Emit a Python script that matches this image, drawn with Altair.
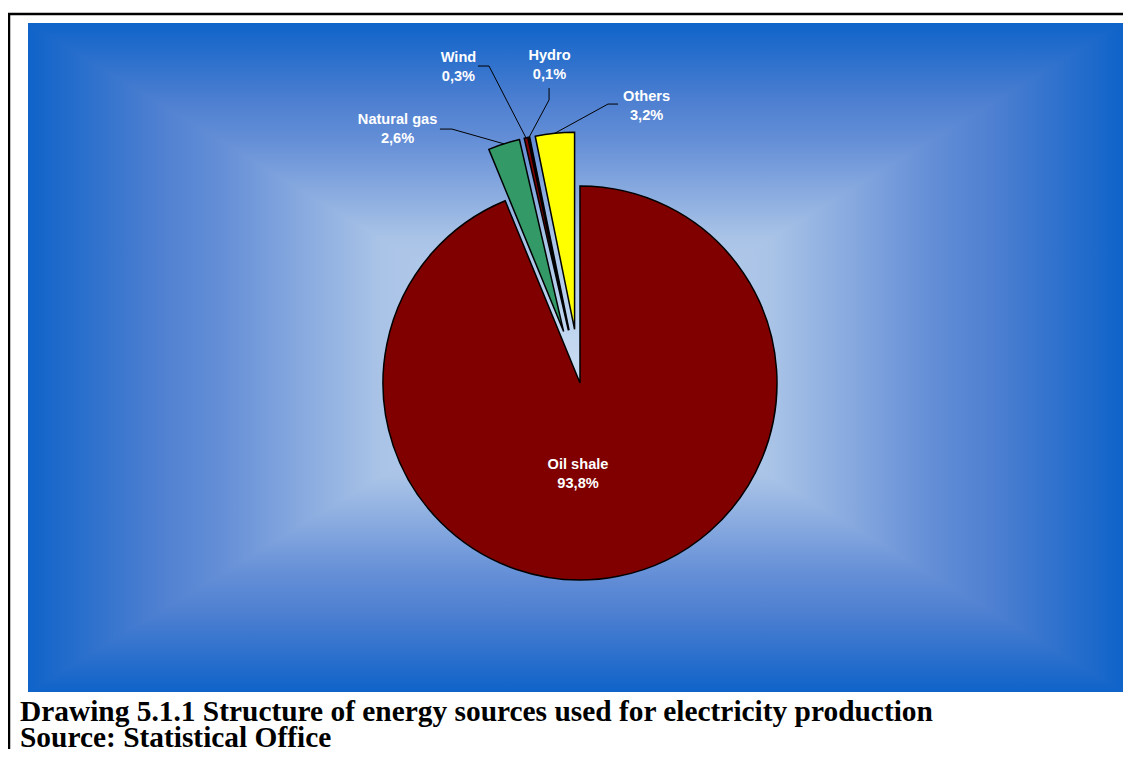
import math
import altair as alt
import pandas as pd

# ---------------- data ----------------
categories = ["Oil shale", "Natural gas", "Wind", "Hydro", "Others"]
shares = [93.8, 2.6, 0.3, 0.1, 3.2]
share_labels = ["93,8%", "2,6%", "0,3%", "0,1%", "3,2%"]
caption_lines = [
    "Drawing 5.1.1 Structure of energy sources used for electricity production",
    "Source: Statistical Office",
]

# ---------------- style / layout ----------------
slice_colors = ["#800000", "#339966", "#800000", "#3366cc", "#ffff00"]
exploded = [False, True, True, True, True]
EXPLODE = 0.274          # explosion distance, in pie radii
W, H = 1095, 669         # plot area (gradient panel)
R = 197                  # pie radius in px
CX, CY = 552, 360        # pie centre inside the plot area, px

# label block centres and leader-line anchor points, in pie radii from centre
label_layout = {
    "Oil shale": (-0.010, -0.462),
    "Natural gas": (-0.926, 1.287),
    "Wind": (-0.617, 1.602),
    "Hydro": (-0.155, 1.612),
    "Others": (0.338, 1.404),
}
leader_layout = {
    "Natural gas": [(-0.711, 1.289), (-0.650, 1.289)],
    "Wind": [(-0.518, 1.609), (-0.462, 1.609)],
    "Hydro": [(-0.157, 1.497), (-0.157, 1.437)],
    "Others": [(0.193, 1.416), (0.142, 1.416)],
}

# ---------------- derived tables ----------------
rows, leaders, labels = [], [], []
cum = 0.0
for cat, v, lab, ex in zip(categories, shares, share_labels, exploded):
    start, end = cum, cum + v
    cum = end
    a = (start + end) / 2 / 100 * 2 * math.pi
    e = EXPLODE if ex else 0.0
    rows.append({"cat": cat, "start": start, "end": end,
                 "ex": e * math.sin(a), "ey": e * math.cos(a)})
    lx, ly = label_layout[cat]
    labels.append({"cat": cat, "lx": lx, "ly": ly, "txt": cat + "\n" + lab})
    if cat in leader_layout:
        pts = leader_layout[cat] + [((1 + e) * math.sin(a), (1 + e) * math.cos(a))]
        for i, (px, py) in enumerate(pts):
            leaders.append({"cat": cat, "ord": i, "px": px, "py": py})

pie_df = pd.DataFrame(rows)
lab_df = pd.DataFrame(labels)
lead_df = pd.DataFrame(leaders)

xs = alt.Scale(domain=[-CX / R, (W - CX) / R], nice=False, zero=False)
ys = alt.Scale(domain=[-(H - CY) / R, CY / R], nice=False, zero=False)

# ---------------- background gradient (rectangular "from centre") ----------------
edge_stops = [(0.0, "#0f63c9"), (0.12, "#4f80d1"), (0.18, "#6690d7"),
              (0.32, "#a9c3e7"), (0.5, "#c6daf1")]
stops = [alt.GradientStop(offset=o, color=c) for o, c in edge_stops] + \
        [alt.GradientStop(offset=1 - o, color=c) for o, c in reversed(edge_stops[:-1])]
grad_v = alt.LinearGradient(gradient="linear", stops=stops, x1=0, x2=0, y1=0, y2=1)
grad_h = alt.LinearGradient(gradient="linear", stops=stops, x1=0, x2=1, y1=0, y2=0)

one = alt.Data(values=[{"k": 1}])
bg = alt.Chart(one).mark_rect(fill=grad_v, strokeWidth=0).encode(
    x=alt.value(0), x2=alt.value(W), y=alt.value(0), y2=alt.value(H))
hw, hh = W / 2, H / 2
bow_path = (f"M{-hw},{-hh}L0,0L{-hw},{hh}Z"
            f"M{hw},{-hh}L0,0L{hw},{hh}Z")
bow = alt.Chart(one).mark_point(shape=bow_path, size=4, filled=True, fill=grad_h,
                                opacity=1, strokeWidth=0).encode(
    x=alt.value(W / 2), y=alt.value(H / 2))

# ---------------- pie ----------------
arcs = alt.Chart(pie_df).mark_arc(radius=R, stroke="black", strokeWidth=1.5).encode(
    x=alt.X("ex:Q", scale=xs, axis=None),
    y=alt.Y("ey:Q", scale=ys, axis=None),
    theta=alt.Theta("start:Q", stack=False,
                    scale=alt.Scale(domain=[0, 100], range=[0, 2 * math.pi])),
    theta2="end:Q",
    color=alt.Color("cat:N", scale=alt.Scale(domain=categories, range=slice_colors),
                    legend=None),
)

lead = alt.Chart(lead_df).mark_line(color="black", strokeWidth=1).encode(
    x=alt.X("px:Q", scale=xs, axis=None),
    y=alt.Y("py:Q", scale=ys, axis=None),
    detail="cat:N",
    order="ord:Q",
)

text = alt.Chart(lab_df).mark_text(
    font="Liberation Sans", fontSize=14.6, fontWeight="bold", color="white",
    lineBreak="\n", lineHeight=19, align="center", baseline="middle", dy=-9.5,
).encode(
    x=alt.X("lx:Q", scale=xs, axis=None),
    y=alt.Y("ly:Q", scale=ys, axis=None),
    text="txt:N",
)

caption = alt.Chart(one).mark_text(
    font="Liberation Serif", fontSize=29.4, fontWeight="bold", color="black",
    align="left", baseline="alphabetic", lineBreak="\n", lineHeight=26,
).encode(x=alt.value(-8), y=alt.value(698), text=alt.value("\n".join(caption_lines)))

border_left = alt.Chart(one).mark_rule(color="black", strokeWidth=2.5).encode(
    x=alt.value(-19), y=alt.value(-10), y2=alt.value(H + 90))
border_top = alt.Chart(one).mark_rule(color="black", strokeWidth=2.5).encode(
    x=alt.value(-20), x2=alt.value(W + 40), y=alt.value(-9))

chart = alt.layer(bg, bow, arcs, lead, text, caption, border_left, border_top).properties(
    width=W, height=H,
    autosize=alt.AutoSizeParams(type="none"),
    padding={"left": 20, "top": 15, "right": 0, "bottom": 57},
    background="white",
).configure_view(stroke=None)

chart.save("out.html", embed_options={"renderer": "svg", "actions": False})
